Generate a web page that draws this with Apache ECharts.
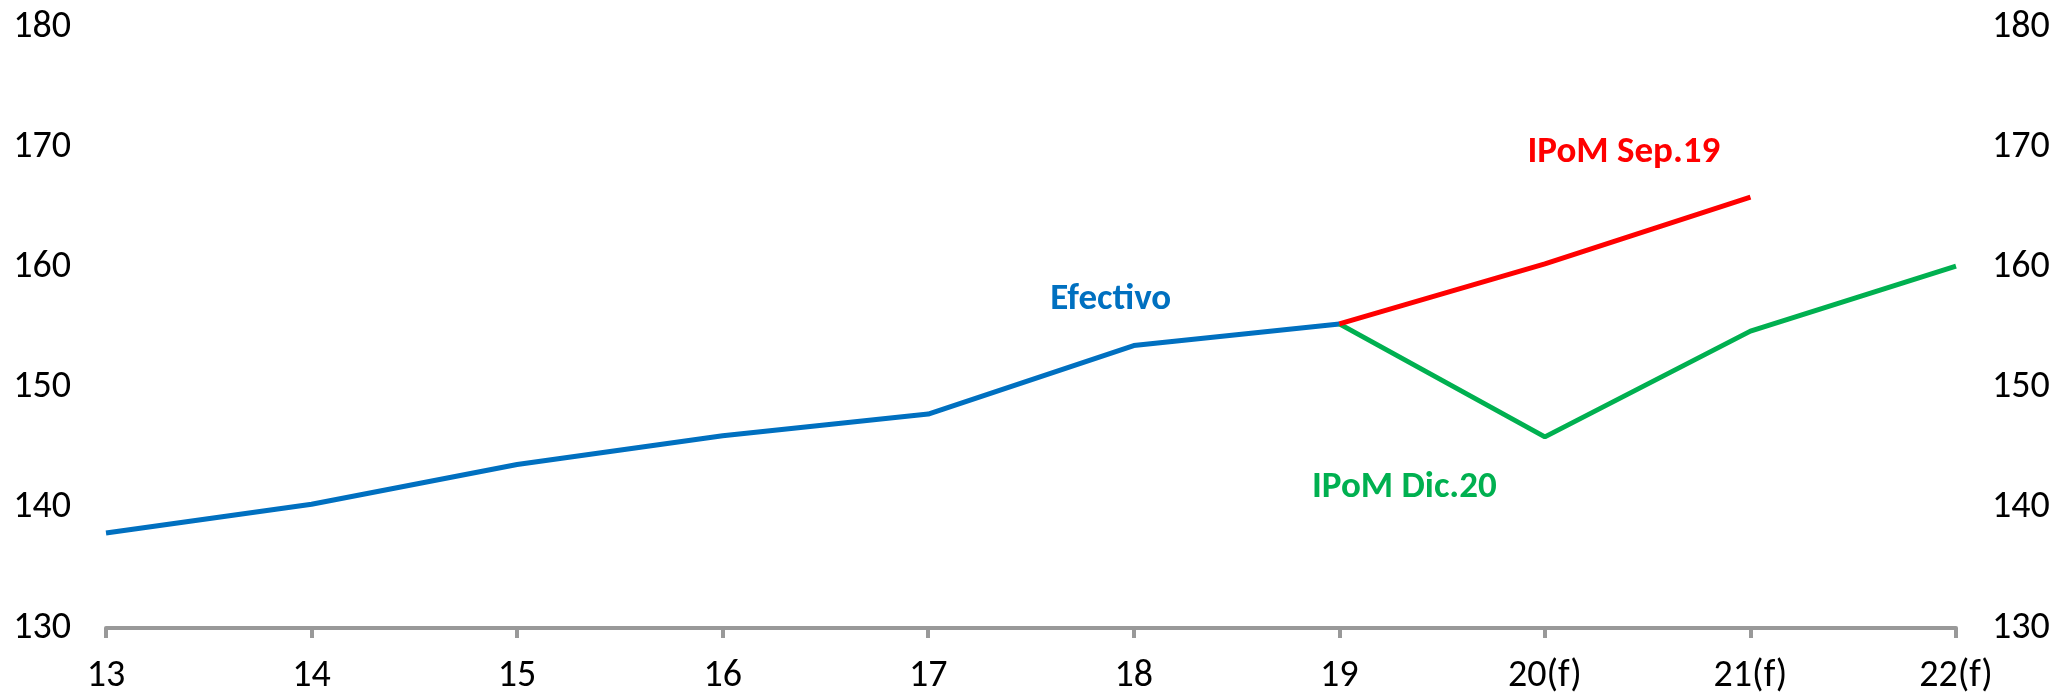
<!DOCTYPE html>
<html>
<head>
<meta charset="utf-8">
<script src="https://cdn.jsdelivr.net/npm/echarts@6/dist/echarts.min.js"></script>
<style>
html,body{margin:0;padding:0;background:#fff;}
#chart{width:2054px;height:696px;}
</style>
</head>
<body>
<div id="chart"></div>
<script>
var categories = ['13','14','15','16','17','18','19','20(f)','21(f)','22(f)'];
var efectivo = [137.9, 140.3, 143.6, 146.0, 147.8, 153.5, 155.3, null, null, null];
var ipomSep19 = [null, null, null, null, null, null, 155.3, 160.3, 165.85, null];
var ipomDic20 = [null, null, null, null, null, null, 155.3, 145.9, 154.7, 160.1];
var yTicks = {min: 130, max: 180, interval: 10};

var FONT = 'Carlito, "Noto Sans", sans-serif';
var chart = echarts.init(document.getElementById('chart'));
var axisLabelStyle = {color: '#000', fontSize: 38, fontFamily: FONT};

function labelPoint(cat, val, text, color, offset) {
  return {
    symbol: 'circle', symbolSize: 0, silent: true,
    data: [{coord: [cat, val]}],
    label: {show: true, formatter: text, color: color, fontSize: 37, fontWeight: 'bold',
            fontFamily: FONT, position: 'inside', offset: offset}
  };
}

chart.setOption({
  animation: false,
  grid: {left: 106, right: 98, top: 27, bottom: 68, containLabel: false},
  xAxis: {
    type: 'category', data: categories, boundaryGap: false,
    axisLine: {lineStyle: {color: '#999999', width: 4}},
    axisTick: {show: true, length: 10, lineStyle: {color: '#999999', width: 4}},
    axisLabel: Object.assign({margin: 29}, axisLabelStyle),
    splitLine: {show: false}
  },
  yAxis: [
    {type: 'value', min: yTicks.min, max: yTicks.max, interval: yTicks.interval,
     axisLine: {show: false}, axisTick: {show: false}, splitLine: {show: false},
     axisLabel: Object.assign({margin: 35}, axisLabelStyle)},
    {type: 'value', position: 'right', min: yTicks.min, max: yTicks.max, interval: yTicks.interval,
     axisLine: {show: false}, axisTick: {show: false}, splitLine: {show: false},
     axisLabel: Object.assign({margin: 36}, axisLabelStyle)}
  ],
  series: [
    {name: 'Efectivo', type: 'line', data: efectivo, symbol: 'none', connectNulls: false,
     lineStyle: {color: '#0070C0', width: 5}, itemStyle: {color: '#0070C0'},
     markPoint: labelPoint('18', 157.3, 'Efectivo', '#0070C0', [-23, 0])},
    {name: 'IPoM Dic.20', type: 'line', data: ipomDic20, symbol: 'none',
     lineStyle: {color: '#00B050', width: 5}, itemStyle: {color: '#00B050'},
     markPoint: labelPoint('19', 141.65, 'IPoM Dic.20', '#00B050', [65, 0])},
    {name: 'IPoM Sep.19', type: 'line', data: ipomSep19, symbol: 'none',
     lineStyle: {color: '#FF0000', width: 5}, itemStyle: {color: '#FF0000'},
     markPoint: labelPoint('20(f)', 169.5, 'IPoM Sep.19', '#FF0000', [79, 0])}
  ]
});
</script>
</body>
</html>
